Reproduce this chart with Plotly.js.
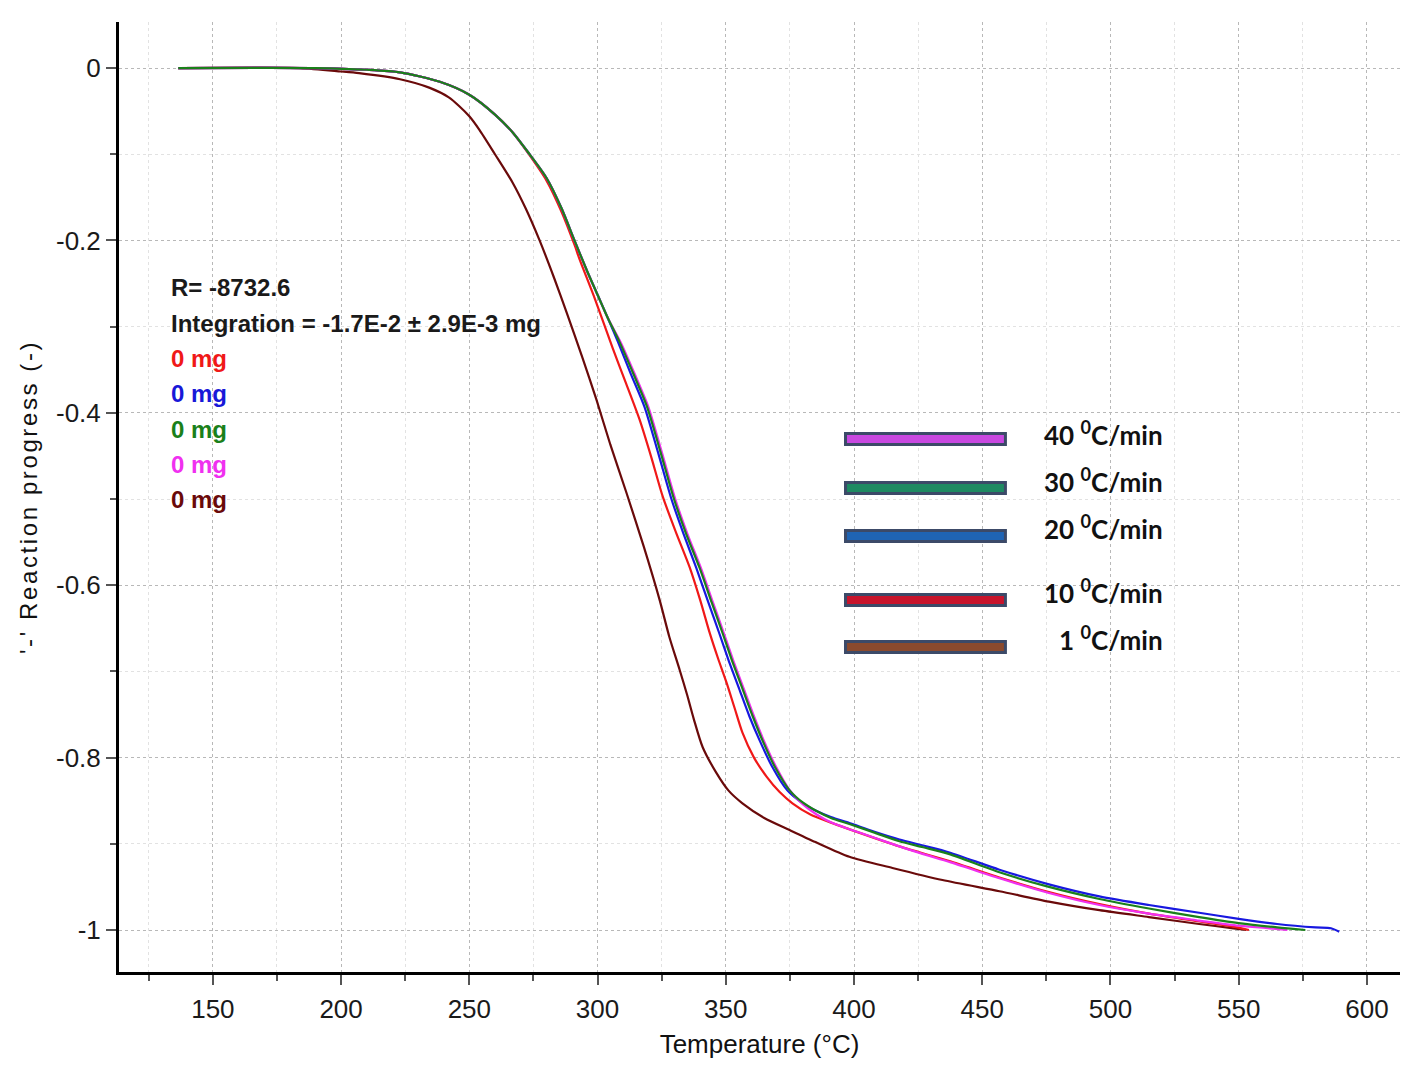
<!DOCTYPE html>
<html>
<head>
<meta charset="utf-8">
<script src="https://cdn.plot.ly/plotly-3.0.1.min.js"></script>
<style>
  html, body { margin: 0; padding: 0; background: #fff; }
  #chart { width: 1402px; height: 1066px; }
  .ytitle { letter-spacing: 2.6px; }
</style>
</head>
<body>
<div id="chart"></div>
<script>
// ---------- data ----------
// Temperature (°C) and reaction progress (-) for each heating-rate run
const tMaroon = [136.5,184,200,207,223,234.6,242,246,250,254,260,266.9,272,277.4,283,288,294,299.6,305,311.3,318,324.2,328,332,335,337.5,341,346.4,351,356.5,365,374.9,385,398.2,415,434.5,456.7,476,495.7,515,534.6,548,553];
const yMaroon = [0,0,-0.004,-0.006,-0.013,-0.023,-0.034,-0.044,-0.056,-0.072,-0.1,-0.133,-0.163,-0.2,-0.243,-0.284,-0.335,-0.385,-0.437,-0.493,-0.555,-0.617,-0.66,-0.698,-0.728,-0.755,-0.788,-0.818,-0.838,-0.853,-0.87,-0.884,-0.898,-0.915,-0.928,-0.942,-0.955,-0.967,-0.977,-0.985,-0.993,-0.998,-1.0];

const tRed = [136.5,190,210,223,238.5,250,260,267,273,280,286,291,293,299,305.9,311,316.4,321,325.4,330.5,335.9,340,343.7,347,350.3,353.5,356.5,361,365.9,371,376,383,391.6,400,417.7,437.2,456.7,476,495.7,515,534.6,548,554];
const yRed = [0,0,-0.002,-0.005,-0.016,-0.031,-0.054,-0.075,-0.099,-0.13,-0.167,-0.205,-0.222,-0.268,-0.325,-0.365,-0.408,-0.452,-0.497,-0.538,-0.579,-0.617,-0.655,-0.685,-0.713,-0.743,-0.771,-0.8,-0.822,-0.84,-0.853,-0.866,-0.876,-0.885,-0.903,-0.92,-0.939,-0.956,-0.97,-0.981,-0.99,-0.996,-1.0];

const tBlue = [136.5,190,210,223,238.5,250,260,267,273,280,286,291,296,300,304,308,313,318.3,323.5,328.8,333.5,338.5,343.2,347.5,351.2,355.2,359.2,363.2,368,374,380,385.4,391,398.2,408,417.7,427,437.2,456.7,476,495.7,515,534.6,550,565,580,586,589.2];
const yBlue = [0,0,-0.002,-0.005,-0.016,-0.031,-0.054,-0.075,-0.098,-0.127,-0.163,-0.2,-0.236,-0.263,-0.29,-0.318,-0.355,-0.393,-0.445,-0.5,-0.54,-0.58,-0.62,-0.656,-0.688,-0.72,-0.752,-0.78,-0.81,-0.838,-0.853,-0.862,-0.869,-0.876,-0.886,-0.895,-0.902,-0.91,-0.93,-0.947,-0.961,-0.971,-0.98,-0.987,-0.993,-0.997,-0.998,-1.002];

const tGreen = [136.5,190,210,223,238.5,250,260,267,273,280,286,291,296,300,304,308.6,314,319.3,324.5,329.8,334.5,339.8,344.5,348.8,352.5,356.5,360.5,364.3,369,374.9,380,385.4,391,398.2,408,417.7,427,437.2,456.7,476,495.7,515,534.6,550,565,576];
const yGreen = [0,0,-0.002,-0.005,-0.016,-0.031,-0.054,-0.075,-0.098,-0.127,-0.163,-0.2,-0.236,-0.263,-0.29,-0.318,-0.355,-0.393,-0.445,-0.5,-0.54,-0.58,-0.62,-0.656,-0.688,-0.72,-0.752,-0.78,-0.81,-0.838,-0.852,-0.862,-0.87,-0.877,-0.887,-0.897,-0.904,-0.912,-0.933,-0.95,-0.964,-0.975,-0.985,-0.992,-0.997,-1.0];

const tMagenta = [136.5,190,210,223,238.5,250,260,267,273,280,286,291,296,300,304,309,314.5,319.8,325,330.3,335,340.3,345,349.3,353,357,361,364.8,369.5,375,380,385.4,391,398.2,408,417.7,427,437.2,456.7,476,495.7,515,534.6,550,562,569];
const yMagenta = [0,0,-0.002,-0.005,-0.016,-0.031,-0.054,-0.075,-0.098,-0.127,-0.163,-0.2,-0.236,-0.263,-0.29,-0.318,-0.355,-0.393,-0.445,-0.5,-0.54,-0.58,-0.62,-0.656,-0.688,-0.72,-0.752,-0.78,-0.81,-0.838,-0.854,-0.866,-0.875,-0.883,-0.893,-0.903,-0.912,-0.921,-0.94,-0.957,-0.971,-0.981,-0.989,-0.995,-0.998,-1.0];

// info text lines (upper left)
const infoLines = ['R= -8732.6', 'Integration = -1.7E-2 ± 2.9E-3 mg', '0 mg', '0 mg', '0 mg', '0 mg', '0 mg'];
const infoColors = ['#1a1a1a', '#1a1a1a', '#F01818', '#1818D8', '#1A801A', '#F030F0', '#6A0A0A'];

// heating-rate key (right)
const keyRates = ['40', '30', '20', '10', '1'];
const keyColors = ['#C848E0', '#1E8A62', '#1F64B4', '#C8142C', '#8A4A2E'];

// axis ticks
const xTicks = [150, 200, 250, 300, 350, 400, 450, 500, 550, 600];
const yTicks = [0, -0.2, -0.4, -0.6, -0.8, -1];
const yTickLabels = ['0', '-0.2', '-0.4', '-0.6', '-0.8', '-1'];

// ---------- chart ----------
const lineW = 2.2;
const traces = [
  {x: tMaroon, y: yMaroon, color: '#6A0A0A'},
  {x: tRed, y: yRed, color: '#F01818'},
  {x: tBlue, y: yBlue, color: '#1818E0'},
  {x: tMagenta, y: yMagenta, color: '#F030F0'},
  {x: tGreen, y: yGreen, color: '#1A801A'}
].map(s => ({
  type: 'scatter', mode: 'lines', x: s.x, y: s.y,
  line: {color: s.color, width: lineW, shape: 'spline', smoothing: 0.7},
  hoverinfo: 'skip', showlegend: false
}));

// pixel helpers to place decorations in data units
const xOfPx = px => 150 + (px - 213) / 2.566;
const yOfPx = py => -(py - 68) / 862;

const annotations = [];
const infoPy = [287, 323, 358, 393, 429, 464, 499];
infoLines.forEach((t, i) => {
  annotations.push({
    x: xOfPx(169), y: yOfPx(infoPy[i]), xref: 'x', yref: 'y',
    text: t, showarrow: false, xanchor: 'left', yanchor: 'middle',
    font: {family: 'Liberation Sans, Arial, sans-serif', size: 24, color: infoColors[i], weight: 'bold'}
  });
});

const keyBarPy = [439, 488, 536, 600, 647];
const keyTextPy = [433, 480, 527, 591, 638];
const shapes = [];
keyRates.forEach((r, i) => {
  const yc = yOfPx(keyBarPy[i]);
  const hh = 5.5 / 862;
  shapes.push({
    type: 'rect', xref: 'x', yref: 'y',
    x0: xOfPx(846), x1: xOfPx(1006), y0: yc - hh, y1: yc + hh,
    fillcolor: keyColors[i], line: {color: '#3C4A68', width: 3}, layer: 'above'
  });
  annotations.push({
    x: xOfPx(1166), y: yOfPx(keyTextPy[i]), xref: 'x', yref: 'y',
    text: r + ' <sup>0</sup>C/min', showarrow: false, xanchor: 'right', yanchor: 'middle',
    font: {family: 'Lato, Open Sans, sans-serif', size: 26, color: '#111', weight: 'bold'}
  });
});

const tickFont = {family: 'Liberation Sans, Arial, sans-serif', size: 26, color: '#1a1a1a'};

const layout = {
  width: 1402, height: 1066,
  margin: {l: 119, r: 2, t: 22, b: 94},
  paper_bgcolor: '#ffffff', plot_bgcolor: '#ffffff',
  showlegend: false,
  xaxis: {
    range: [113.4, 612.9],
    tickmode: 'array', tickvals: xTicks, ticktext: xTicks.map(String),
    ticks: 'outside', ticklen: 10, tickwidth: 2, tickcolor: '#555',
    ticklabelstandoff: 2,
    tickfont: tickFont,
    showline: true, linecolor: '#000', linewidth: 3,
    showgrid: true, gridcolor: '#b8b8b8', griddash: 'dot', gridwidth: 1,
    zeroline: false,
    minor: {tickmode: 'linear', tick0: 0, dtick: 25, ticks: 'outside', ticklen: 6, tickwidth: 2, tickcolor: '#555',
            showgrid: true, gridcolor: '#e2e2e2', gridwidth: 1},
    title: {text: 'Temperature (°C)', font: {family: 'Liberation Sans, Arial, sans-serif', size: 26, color: '#111'}, standoff: 12},
    automargin: true
  },
  yaxis: {
    range: [-1.0487, 0.0534],
    tickmode: 'array', tickvals: yTicks, ticktext: yTickLabels,
    ticks: 'outside', ticklen: 10, tickwidth: 2, tickcolor: '#555',
    ticklabelstandoff: 0,
    tickfont: tickFont,
    showline: true, linecolor: '#000', linewidth: 3,
    showgrid: true, gridcolor: '#b8b8b8', griddash: 'dot', gridwidth: 1,
    zeroline: false,
    minor: {tickmode: 'linear', tick0: 0, dtick: 0.1, ticks: 'outside', ticklen: 6, tickwidth: 2, tickcolor: '#555',
            showgrid: true, gridcolor: '#e2e2e2', gridwidth: 1},
    title: {text: "'-' Reaction progress (-)", font: {family: 'Liberation Sans, Arial, sans-serif', size: 24, color: '#111'}, standoff: 12},
    automargin: true
  },
  annotations: annotations,
  shapes: shapes
};

Plotly.newPlot('chart', traces, layout, {displayModeBar: false, staticPlot: true});
</script>
</body>
</html>
